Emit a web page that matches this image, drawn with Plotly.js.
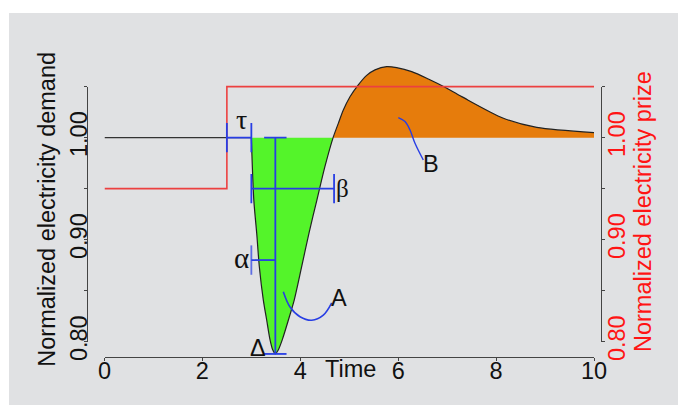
<!DOCTYPE html>
<html>
<head>
<meta charset="utf-8">
<script src="https://cdn.plot.ly/plotly-3.0.1.min.js"></script>
<style>
html,body{margin:0;padding:0;background:#ffffff;}
#chart{position:absolute;left:9px;top:13px;width:669px;height:392px;}
</style>
</head>
<body>
<div id="chart"></div>
<script>
// ---- data ----
const flatTime = [0, 3.0];
const flatValue = [1.0, 1.0];
const demandTime = [3.0, 3.05, 3.11, 3.162, 3.244, 3.314, 3.381, 3.436, 3.49, 3.551, 3.632, 3.755, 3.877, 4.03, 4.18, 4.34, 4.50, 4.67,
                    4.777, 4.879, 5.015, 5.185, 5.356, 5.526, 5.765, 5.969, 6.276, 6.615, 6.956, 7.297, 8.15, 8.83, 10];
const demandValue = [1.0, 0.939, 0.906, 0.874, 0.841, 0.821, 0.802, 0.792, 0.788, 0.792, 0.802, 0.821, 0.841, 0.874, 0.907, 0.939, 0.971, 1.0,
                     1.014, 1.027, 1.040, 1.0517, 1.061, 1.0664, 1.0696, 1.0686, 1.0647, 1.0575, 1.0494, 1.0402, 1.019, 1.010, 1.005];
const priceTime = [0, 2.5, 2.5, 10];
const priceValue = [0.95, 0.95, 1.05, 1.05];
const baseLevel = 1.0;
const recoveryTime = 4.67;
const tauStart = 2.5, tauEnd = 3.0;
const betaEnd = 4.69, betaLevel = 0.95;
const alphaLevel = 0.88;
const aCurveX = [3.653, 3.790, 3.994, 4.233, 4.470, 4.641];
const aCurveY = [0.849, 0.834, 0.8245, 0.821, 0.826, 0.838];
const bCurveX = [6.002, 6.139, 6.241, 6.343, 6.513];
const bCurveY = [1.0196, 1.0157, 1.0075, 0.9945, 0.9781];
const xTicks = [0, 2, 4, 6, 8, 10];
const yTicks = [0.80, 0.85, 0.90, 0.95, 1.00, 1.05];
const yTickText = ["0.80", "", "0.90", "", "1.00", ""];
const labelTexts = {tau: "τ", beta: "β", alpha: "α", A: "A", B: "B", delta: "Δ", time: "Time"};
const leftTitle = "Normalized electricity demand";
const rightTitle = "Normalized electricity prize";

// ---- derived ----
const greenX = [], greenY = [], orangeX = [], orangeY = [];
demandTime.forEach((t, i) => {
  if (t <= recoveryTime) { greenX.push(t); greenY.push(demandValue[i]); }
  if (t >= recoveryTime) { orangeX.push(t); orangeY.push(demandValue[i]); }
});
let minIdx = 0;
demandValue.forEach((v, i) => { if (v < demandValue[minIdx]) minIdx = i; });
const troughX = demandTime[minIdx], troughY = demandValue[minIdx];

const blue = 'rgb(40,62,228)';
const SANS = 'Liberation Sans, Arial, Helvetica, sans-serif';
const SERIF = 'Liberation Serif, Times New Roman, serif';
const FS = 23.5;

const yRange = [0.785, 1.08];
const axRange = [0.80, 1.05];
const dom = [(axRange[0]-yRange[0])/(yRange[1]-yRange[0]), (axRange[1]-yRange[0])/(yRange[1]-yRange[0])];

const noHover = {hoverinfo: 'skip', showlegend: false};
const traces = [
  Object.assign({x: [greenX[0], greenX[greenX.length-1]], y: [baseLevel, baseLevel], mode: 'lines', line: {width: 0}}, noHover),
  Object.assign({x: greenX, y: greenY, mode: 'lines', line: {width: 0, shape: 'spline', smoothing: 0.8}, fill: 'tonexty', fillcolor: 'rgb(84,244,42)'}, noHover),
  Object.assign({x: [orangeX[0], orangeX[orangeX.length-1]], y: [baseLevel, baseLevel], mode: 'lines', line: {width: 0}}, noHover),
  Object.assign({x: orangeX, y: orangeY, mode: 'lines', line: {width: 0, shape: 'spline', smoothing: 0.8}, fill: 'tonexty', fillcolor: 'rgb(230,124,12)'}, noHover),
  Object.assign({x: flatTime, y: flatValue, mode: 'lines', line: {color: '#333', width: 1.2}}, noHover),
  Object.assign({x: demandTime, y: demandValue, mode: 'lines', line: {color: '#222', width: 1.2, shape: 'spline', smoothing: 0.8}}, noHover),
  Object.assign({x: priceTime, y: priceValue, mode: 'lines', line: {color: 'rgb(236,64,64)', width: 1.6}}, noHover),
  // tau bracket
  Object.assign({x: [tauStart, tauEnd], y: [baseLevel, baseLevel], mode: 'lines+markers', line: {color: blue, width: 1.8},
   marker: {symbol: 'line-ns', size: 21, line: {color: blue, width: 1.8}}}, noHover),
  // beta bracket
  Object.assign({x: [tauEnd, betaEnd], y: [betaLevel, betaLevel], mode: 'lines+markers', line: {color: blue, width: 1.8},
   marker: {symbol: 'line-ns', size: 21, line: {color: blue, width: 1.8}}}, noHover),
  // alpha bracket
  Object.assign({x: [tauEnd, troughX], y: [alphaLevel, alphaLevel], mode: 'lines+markers', line: {color: blue, width: 1.8},
   marker: {symbol: 'line-ns', size: [21, 0], line: {color: blue, width: 1.8}}}, noHover),
  // delta vertical
  Object.assign({x: [troughX, troughX], y: [baseLevel, troughY], mode: 'lines+markers', line: {color: blue, width: 1.8},
   marker: {symbol: 'line-ew', size: 16, line: {color: blue, width: 1.8}}}, noHover),
  Object.assign({x: aCurveX, y: aCurveY, mode: 'lines', line: {color: blue, width: 1.6, shape: 'spline'}}, noHover),
  Object.assign({x: bCurveX, y: bCurveY, mode: 'lines', line: {color: blue, width: 1.4, shape: 'spline'}}, noHover),
  Object.assign({x: [null], y: [null], yaxis: 'y2', mode: 'lines'}, noHover),
  Object.assign({x: [null], y: [null], yaxis: 'y3', mode: 'lines'}, noHover)
];

const axisCommon = {
  range: axRange, domain: dom, anchor: 'free', showline: true, linecolor: '#444', linewidth: 1.2,
  ticks: 'outside', ticklen: 3, tickcolor: '#444', tickwidth: 1.2,
  tickvals: yTicks, ticktext: yTickText, tickangle: -90,
  showgrid: false, zeroline: false, fixedrange: true
};

const ann = (text, x, y, font, extra) => Object.assign({text: text, x: x, y: y, xref: 'x', yref: 'y', showarrow: false,
  xanchor: 'center', yanchor: 'middle',
  font: Object.assign({size: FS, color: '#111', family: SANS}, font || {})}, extra || {});

const layout = {
  width: 669, height: 392,
  margin: {l: 78, r: 77, t: 43, b: 48, pad: 0},
  paper_bgcolor: 'rgb(224,225,227)', plot_bgcolor: 'rgba(0,0,0,0)',
  showlegend: false, hovermode: false,
  font: {family: SANS, size: FS, color: '#111'},
  xaxis: {range: [0, 10], domain: [0.03405, 0.98638], anchor: 'y', showline: true, linecolor: '#444', linewidth: 1.2,
          ticks: 'outside', ticklen: 3, tickcolor: '#444', tickvals: xTicks, ticktext: xTicks.map(String),
          ticklabelstandoff: -10,
          showgrid: false, zeroline: false, fixedrange: true, tickfont: {size: FS, color: '#111'}},
  yaxis: {range: yRange, visible: false, showgrid: false, zeroline: false, fixedrange: true},
  yaxis2: Object.assign({}, axisCommon, {side: 'left', position: 0, ticklabelstandoff: -12, tickfont: {size: FS, color: '#111'}}),
  yaxis3: Object.assign({}, axisCommon, {side: 'right', position: 1, ticklabelstandoff: -8, tickfont: {size: FS, color: 'rgb(255,20,20)'}}),
  annotations: [
    ann(labelTexts.tau, 2.79, 1.0174, {family: SERIF, size: 28}),
    ann(labelTexts.beta, betaEnd, betaLevel, {family: SERIF, size: 25}, {xanchor: 'left', xshift: 0}),
    ann(labelTexts.alpha, tauEnd, alphaLevel, {family: SERIF, size: 29}, {xanchor: 'right', xshift: 0, yshift: 2}),
    ann(labelTexts.A, 4.79, 0.843),
    ann(labelTexts.B, 6.66, 0.974),
    ann(labelTexts.delta, 3.14, 0.7935),
    {text: labelTexts.time, x: 5.03, xref: 'x', y: -0.0399, yref: 'paper', showarrow: false, xanchor: 'center', yanchor: 'middle',
     font: {size: FS, color: '#111', family: SANS}},
    {text: leftTitle, xref: 'paper', yref: 'paper', x: -0.0784, y: 0.4917, xanchor: 'center', yanchor: 'middle', textangle: -90, showarrow: false,
     font: {size: FS, color: '#111', family: SANS}},
    {text: rightTitle, xref: 'paper', yref: 'paper', x: 1.0817, y: 0.485, xanchor: 'center', yanchor: 'middle', textangle: -90, showarrow: false,
     font: {size: FS, color: 'rgb(255,20,20)', family: SANS}}
  ]
};

Plotly.newPlot('chart', traces, layout, {displayModeBar: false, staticPlot: true});
</script>
</body>
</html>
